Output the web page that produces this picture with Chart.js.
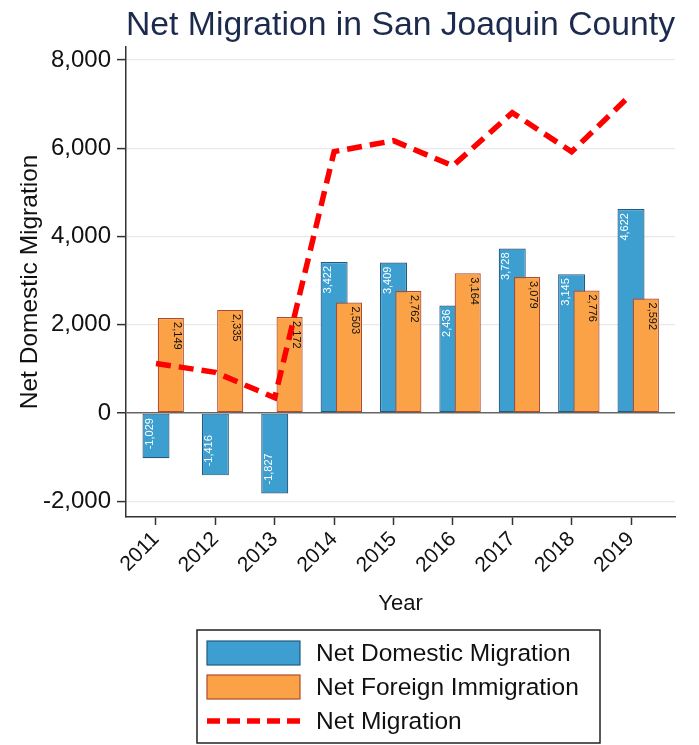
<!DOCTYPE html>
<html>
<head>
<meta charset="utf-8">
<title>Net Migration in San Joaquin County</title>
<script src="https://cdn.jsdelivr.net/npm/chart.js@4.4.1/dist/chart.umd.min.js"></script>
<style>
  html, body { margin: 0; padding: 0; background: #fff; }
  #wrap { width: 699px; height: 745px; }
</style>
</head>
<body>
<div id="wrap"><canvas id="migChart" width="699" height="745"></canvas></div>
<script>
// data
const years = [2011, 2012, 2013, 2014, 2015, 2016, 2017, 2018, 2019];
const domestic = [-1029, -1416, -1827, 3422, 3409, 2436, 3728, 3145, 4622];
const foreign = [2149, 2335, 2172, 2503, 2762, 3164, 3079, 2776, 2592];
const netMigration = [1120, 919, 345, 5925, 6171, 5600, 6807, 5921, 7214];
const yTicks = [-2000, 0, 2000, 4000, 6000, 8000];

const FONT = "'Liberation Sans', Arial, sans-serif";
const BLUE = '#3d9fd0', BLUE_EDGE = '#245a80';
const ORANGE = '#fba247', ORANGE_EDGE = '#b04a2e';
const RED = '#ff0000';

// x range so first/last years land where they do in the picture
const xMin = 2010.495, xMax = 2019.741;
const shift = 0.25; // orange bars sit a bit to the right of the tick

const fmt = v => v.toLocaleString('en-US');

// labels written vertically inside each bar, near its end
const barLabels = {
  id: 'barLabels',
  afterDatasetDraw(chart, args) {
    const ds = chart.data.datasets[args.index];
    if (ds.type !== 'bar') return;
    const ctx = chart.ctx;
    const meta = args.meta;
    ctx.save();
    ctx.font = '11px ' + FONT;
    ctx.textBaseline = 'middle';
    meta.data.forEach((bar, i) => {
      const v = ds.data[i].y;
      ctx.save();
      if (ds.label === 'Net Domestic Migration') {
        ctx.fillStyle = '#ffffff';
        if (v >= 0) {
          ctx.translate(bar.x - 6, bar.y + 4);
          ctx.rotate(-Math.PI / 2);
          ctx.textAlign = 'right';
        } else {
          ctx.translate(bar.x - 6, bar.y - 9);
          ctx.rotate(-Math.PI / 2);
          ctx.textAlign = 'left';
        }
      } else {
        ctx.fillStyle = '#111111';
        ctx.translate(bar.x + 6, bar.y + 4);
        ctx.rotate(Math.PI / 2);
        ctx.textAlign = 'left';
      }
      ctx.fillText(fmt(v), 0, 0);
      ctx.restore();
    });
    ctx.restore();
  }
};

// boxed legend under the chart
const boxLegend = {
  id: 'boxLegend',
  afterDraw(chart) {
    const ctx = chart.ctx;
    const left = 197, top = 630, w = 403, h = 113;
    ctx.save();
    ctx.strokeStyle = '#222';
    ctx.lineWidth = 1.5;
    ctx.strokeRect(left, top, w, h);
    ctx.font = '24.5px ' + FONT;
    ctx.textBaseline = 'middle';
    ctx.textAlign = 'left';
    const rows = [
      { label: 'Net Domestic Migration', fill: BLUE, edge: BLUE_EDGE, cy: 653 },
      { label: 'Net Foreign Immigration', fill: ORANGE, edge: ORANGE_EDGE, cy: 687 },
      { label: 'Net Migration', line: RED, cy: 721 }
    ];
    rows.forEach(r => {
      if (r.line) {
        ctx.save();
        ctx.strokeStyle = r.line;
        ctx.lineWidth = 5.5;
        ctx.setLineDash([13, 7]);
        ctx.beginPath();
        ctx.moveTo(207, r.cy);
        ctx.lineTo(300, r.cy);
        ctx.stroke();
        ctx.restore();
      } else {
        ctx.fillStyle = r.fill;
        ctx.fillRect(207, r.cy - 12, 93, 24);
        ctx.strokeStyle = r.edge;
        ctx.lineWidth = 1.2;
        ctx.strokeRect(207, r.cy - 12, 93, 24);
      }
      ctx.fillStyle = '#111';
      ctx.fillText(r.label, 316, r.cy + 1);
    });
    ctx.restore();
  }
};

const ctx = document.getElementById('migChart').getContext('2d');
const migChart = new Chart(ctx, {
  type: 'bar',
  data: {
    datasets: [
      {
        type: 'line',
        label: 'Net Migration',
        data: years.map((y, i) => ({ x: y, y: netMigration[i] })),
        borderColor: RED,
        borderWidth: 5.5,
        borderDash: [15, 8],
        pointRadius: 0,
        tension: 0,
        fill: false,
        xAxisID: 'x',
        order: 0
      },
      {
        type: 'bar',
        label: 'Net Foreign Immigration',
        data: years.map((y, i) => ({ x: y, y: foreign[i] })),
        backgroundColor: ORANGE,
        borderColor: ORANGE_EDGE,
        borderWidth: 1.2,
        borderSkipped: false,
        grouped: false,
        barPercentage: 0.44,
        categoryPercentage: 1,
        xAxisID: 'x2',
        order: 1
      },
      {
        type: 'bar',
        label: 'Net Domestic Migration',
        data: years.map((y, i) => ({ x: y, y: domestic[i] })),
        backgroundColor: BLUE,
        borderColor: BLUE_EDGE,
        borderWidth: 1.2,
        borderSkipped: false,
        grouped: false,
        barPercentage: 0.455,
        categoryPercentage: 1,
        xAxisID: 'x',
        order: 2
      }
    ]
  },
  options: {
    responsive: false,
    animation: false,
    devicePixelRatio: 1,
    layout: { padding: { left: 0, right: 24, top: 0, bottom: 128 } },
    plugins: {
      legend: { display: false },
      tooltip: { enabled: false },
      title: {
        display: true,
        text: 'Net Migration in San Joaquin County',
        color: '#1c2b4d',
        fullSize: false,
        font: { family: FONT, size: 34, weight: 'normal' },
        padding: { top: 5, bottom: 1 }
      }
    },
    scales: {
      x: {
        type: 'linear',
        offset: false,
        min: xMin,
        max: xMax,
        afterBuildTicks: s => { s.ticks = years.map(v => ({ value: v })); },
        afterFit: s => { s.height = 100; },
        border: { display: true, color: '#333', width: 1.5 },
        grid: { offset: false, drawOnChartArea: false, drawTicks: true, tickLength: 8, tickColor: '#333', tickWidth: 1.5 },
        ticks: {
          color: '#111',
          font: { family: FONT, size: 21 },
          minRotation: 45,
          maxRotation: 45,
          padding: 2,
          callback: v => String(v)
        },
        title: {
          display: true,
          text: 'Year',
          color: '#111',
          font: { family: FONT, size: 22 },
          padding: { top: 0, bottom: 0 }
        }
      },
      x2: {
        type: 'linear',
        display: false,
        offset: false,
        min: xMin - shift,
        max: xMax - shift
      },
      y: {
        min: -2360,
        max: 8300,
        afterBuildTicks: s => { s.ticks = yTicks.map(v => ({ value: v })); },
        afterFit: s => { s.width = 126; },
        border: { display: true, color: '#333', width: 1.5 },
        grid: {
          color: c => (c.tick && c.tick.value === 0 ? '#666' : '#e9e9e9'),
          lineWidth: c => (c.tick && c.tick.value === 0 ? 1.5 : 1.2),
          drawTicks: true,
          tickLength: 9,
          tickColor: '#333',
          tickWidth: 1.5
        },
        ticks: {
          color: '#111',
          font: { family: FONT, size: 24 },
          padding: 6,
          callback: v => fmt(v)
        },
        title: {
          display: true,
          text: 'Net Domestic Migration',
          color: '#111',
          font: { family: FONT, size: 24.5 },
          padding: { top: 16, bottom: 0 }
        }
      }
    }
  },
  plugins: [barLabels, boxLegend]
});
</script>
</body>
</html>
